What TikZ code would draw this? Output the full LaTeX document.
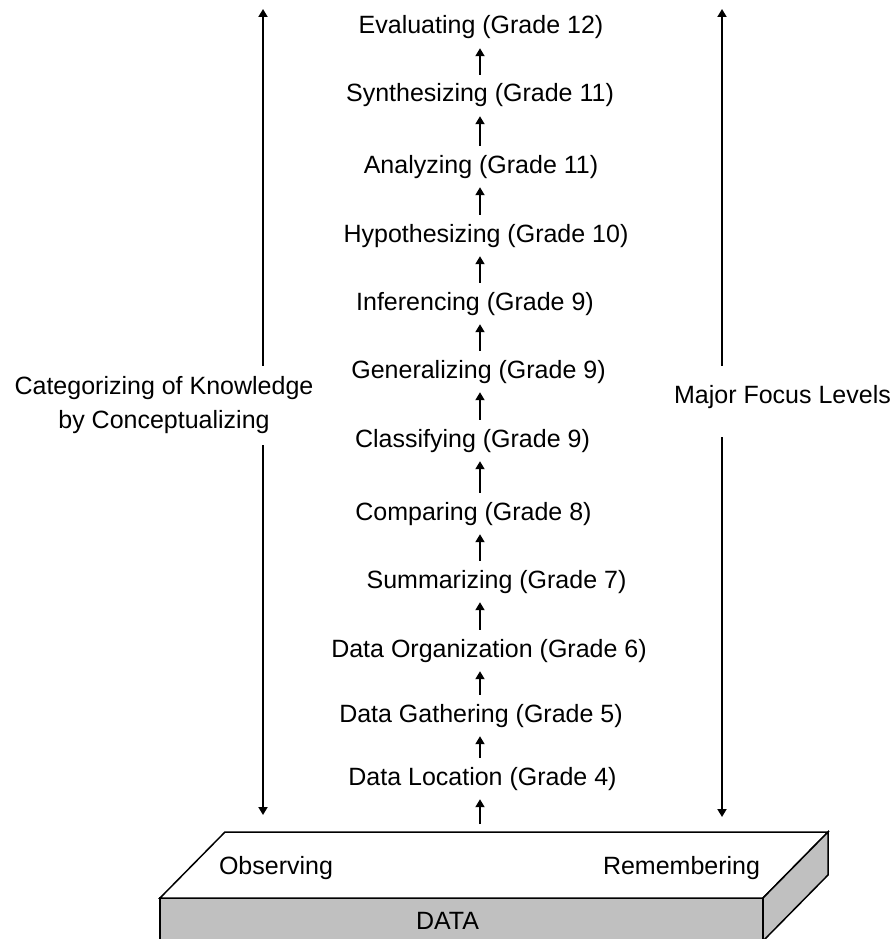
\documentclass[tikz,border=0pt]{standalone}
\usepackage{fontspec}
\setmainfont{Liberation Sans}
\usetikzlibrary{arrows.meta}
\definecolor{boxgray}{HTML}{C0C0C0}
\begin{document}
\begin{tikzpicture}[x=1pt,y=-1pt,
  lvl/.style={font=\fontsize{25}{30}\selectfont, inner sep=0pt, text height=27pt, text depth=14pt, anchor=base},
  lbl/.style={font=\fontsize{25}{30}\selectfont, inner sep=0pt, anchor=base},
  tip/.tip={Triangle[length=8pt,width=9pt]},
  uparr/.style={-tip, line width=1.8pt},
  dblarr/.style={tip-tip, line width=1.8pt},
  side/.style={font=\fontsize{25}{34}\selectfont, fill=white, inner sep=0pt, align=center},
  face/.style={draw=black, line width=1.5pt, line join=miter}]
\useasboundingbox (0,0) rectangle (895,939);

% base box
\draw[face, fill=boxgray] (160,898) rectangle (763,945);
\draw[face, fill=white] (160,898) -- (225,832) -- (828,832) -- (763,898) -- cycle;
\draw[face, fill=boxgray] (763,898) -- (828,832) -- (828,875) -- (763,941) -- cycle;
\node[lbl] (obs) at (276,874) {Observing};
\node[lbl] (rem) at (681.5,874) {Remembering};
\node[lbl] (data) at (447.5,929) {DATA};

% levels
\coordinate (spine) at (480,0);
\coordinate (boxtop) at (480,832);
\node[lvl] (l12) at (481,34) {Evaluating (Grade 12)};
\node[lvl] (l11b) at (480,102) {Synthesizing (Grade 11)};
\node[lvl] (l11a) at (481,173) {Analyzing (Grade 11)};
\node[lvl] (l10) at (486,242) {Hypothesizing (Grade 10)};
\node[lvl] (l9c) at (475,310) {Inferencing (Grade 9)};
\node[lvl] (l9b) at (478.5,378) {Generalizing (Grade 9)};
\node[lvl] (l9a) at (472.5,447) {Classifying (Grade 9)};
\node[lvl] (l8) at (473.5,520) {Comparing (Grade 8)};
\node[lvl] (l7) at (496.5,588) {Summarizing (Grade 7)};
\node[lvl] (l6) at (489,657) {Data Organization (Grade 6)};
\node[lvl] (l5) at (481,722) {Data Gathering (Grade 5)};
\node[lvl] (l4) at (482.5,785) {Data Location (Grade 4)};

\foreach \a/\b in {l4/l5, l5/l6, l6/l7, l7/l8, l8/l9a, l9a/l9b, l9b/l9c, l9c/l10, l10/l11a, l11a/l11b, l11b/l12}
  \draw[uparr] (\a.north -| spine) -- (\b.south -| spine);
\draw[uparr, shorten <=8pt] (boxtop) -- (l4.south -| spine);

% side arrows
\coordinate (lt) at (263,9);
\coordinate (lb) at (263,815);
\coordinate (rt) at (722,9);
\coordinate (rb) at (722,817);
\draw[dblarr] (lb) -- (lt);
\draw[dblarr] (rb) -- (rt);
\node[side, minimum height=79pt] (cat) at (164,405) {Categorizing of Knowledge\\by Conceptualizing};
\node[side, text height=37pt, text depth=34pt, anchor=base] (mfl) at (782.5,403) {Major Focus Levels};
\end{tikzpicture}
\end{document}
